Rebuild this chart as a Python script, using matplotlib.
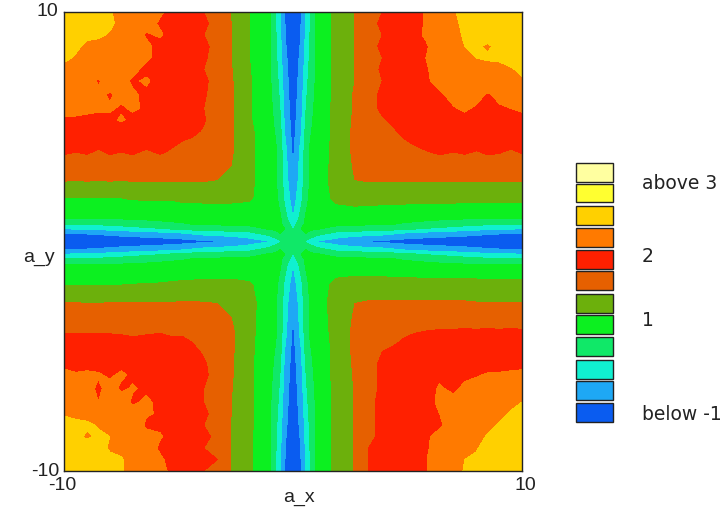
"""Contour map of a_x / a_y with a block legend."""
import matplotlib
matplotlib.use('Agg')
import matplotlib.pyplot as plt
import numpy as np
from matplotlib.colors import ListedColormap
from matplotlib.patches import Rectangle

W, H = 725, 514

# distance from the axis, shared by both directions
dist = [0, .35, .55, .75, 1, 1.9, 2.7, 3.3, 3.9, 4.4, 4.8, 5.3, 5.8, 6.4, 7, 7.5, 8, 8.5, 9, 9.5, 10]

# band index, the arms along the axes
near = [
    [3.8, 3.4, 2.9, 2.5, 2.0, 1.5, 1.1, .95, .8, .7, .6, .55, .5, .45, .4, .4, .4, .35, .3, .3, .3],
    [3.4, 4.0, 4.0, 3.8, 3.4, 2.7, 2.5, 2.4, 2.3, 2.1, 1.9, 1.75, 1.6, 1.5, 1.4, 1.3, 1.2, 1.1, 1.05, 1, 1],
    [2.9, 4, 4.1, 4.1, 4.1, 3.6, 3.5, 3.45, 3.4, 3.3, 3.2, 3.05, 2.9, 2.75, 2.6, 2.45, 2.3, 2.2, 2.1, 2.05, 2],
    [2.5, 3.8, 4.1, 4.3, 4.3, 4.2, 4.1, 4.1, 4.1, 4, 3.9, 3.8, 3.7, 3.55, 3.4, 3.3, 3.2, 3.1, 3.05, 3, 3],
    [2, 3.4, 4.1, 4.3, 4.5, 4.5, 4.4, 4.4, 4.4, 4.35, 4.3, 4.25, 4.2, 4.15, 4.1, 4.05, 4.05, 4, 4, 4, 4],
]

# the four corners, rows = |a_y| from 1.9 up, columns = |a_x| from 1.9 up
top_left = [
    [5.1, 5.2, 5.2, 5.2, 5.2, 5.2, 5.1, 5.1, 5.1, 5.1, 5, 5, 5, 5, 5, 5],
    [5.2, 5.85, 6, 6.1, 6.1, 6.1, 6.1, 6.1, 6.1, 6.1, 6.05, 6.1, 6.05, 6.1, 6.05, 6.1],
    [5.2, 6, 6.3, 6.4, 6.5, 6.5, 6.5, 6.5, 6.5, 6.6, 6.5, 6.6, 6.6, 6.5, 6.6, 6.6],
    [5.2, 6.1, 6.5, 6.7, 6.8, 6.85, 6.9, 7.1, 6.9, 7.1, 7, 7.1, 6.9, 7.1, 7, 7.1],
    [5.2, 6.1, 6.6, 6.9, 6.95, 7, 7.2, 7.3, 7.3, 7.4, 7.3, 7.4, 7.3, 7.4, 7.4, 7.4],
    [5.2, 6.1, 6.7, 6.95, 7.1, 7.05, 7.3, 7.5, 7.6, 7.5, 7.5, 7.6, 7.5, 7.6, 7.6, 7.6],
    [5.1, 6.1, 6.7, 7.05, 7.3, 7.4, 7.5, 7.7, 7.7, 7.8, 8.1, 7.8, 7.8, 7.9, 7.9, 7.9],
    [5.1, 6.1, 6.8, 7, 7.4, 7.5, 7.5, 7.6, 7.9, 8.1, 7.9, 8.1, 8.1, 8.1, 8.2, 8.2],
    [5.1, 6.1, 6.8, 7.05, 7.4, 7.5, 7.6, 7.8, 7.85, 8.1, 8.2, 7.9, 8.2, 8.3, 8.3, 8.4],
    [5.1, 6.1, 6.8, 7.1, 7.4, 7.5, 7.6, 7.7, 8.1, 7.9, 8.2, 8.4, 7.9, 8.4, 8.5, 8.6],
    [5.05, 6.05, 6.8, 7, 7.4, 7.5, 7.7, 7.9, 7.8, 8.2, 8.1, 8.4, 8.5, 8.6, 8.7, 8.85],
    [5, 6, 6.85, 7.05, 7.4, 7.5, 7.7, 7.8, 8.1, 8.2, 8.3, 8.6, 8.6, 8.8, 8.95, 9.1],
    [5, 6, 6.85, 7.1, 7.4, 7.5, 7.8, 7.7, 8.2, 8.4, 8.5, 8.7, 8.8, 8.9, 9.1, 9.2],
    [5, 6, 6.9, 7, 7.4, 7.5, 7.7, 8.1, 7.9, 8.5, 8.7, 8.95, 9.1, 9.1, 9.3, 9.4],
    [5, 6, 6.9, 7.05, 7.4, 7.5, 7.7, 7.9, 8.3, 8.55, 8.85, 9.1, 9.2, 9.3, 9.4, 9.6],
    [5, 5.95, 6.9, 7, 7.4, 7.5, 7.8, 8.1, 8.4, 8.6, 8.8, 9.05, 9.1, 9.3, 9.5, 9.7],
]
top_right = [
    [5.2, 5.4, 5.35, 5.3, 5.3, 5.3, 5.3, 5.3, 5.3, 5.3, 5.3, 5.3, 5.3, 5.3, 5.3, 5.3],
    [5.4, 6, 6.1, 6.1, 6.1, 6.1, 6.1, 6.1, 6.1, 6.1, 6.1, 6.1, 6.1, 6.1, 6.1, 6.1],
    [5.35, 6.1, 6.3, 6.4, 6.45, 6.5, 6.5, 6.6, 6.6, 6.6, 6.5, 6.6, 6.6, 6.6, 6.6, 6.7],
    [5.3, 6.2, 6.4, 6.5, 6.6, 6.7, 6.85, 6.95, 7.1, 7, 7.1, 6.95, 7.1, 7.05, 6.9, 7.05],
    [5.3, 6.2, 6.6, 6.7, 6.85, 6.95, 7.1, 7.3, 7.3, 7.4, 7.4, 7.4, 7.3, 7.4, 7.3, 7.3],
    [5.3, 6.2, 6.7, 6.9, 6.95, 7.1, 7.3, 7.4, 7.5, 7.5, 7.5, 7.6, 7.5, 7.6, 7.5, 7.6],
    [5.3, 6.15, 6.75, 6.95, 7.1, 7.3, 7.4, 7.6, 7.7, 7.7, 7.8, 7.7, 7.75, 7.7, 7.8, 7.8],
    [5.3, 6.1, 6.8, 7.1, 7.3, 7.4, 7.5, 7.7, 7.8, 7.95, 8.1, 7.9, 8, 7.9, 8, 8.1],
    [5.3, 6.1, 6.8, 7.1, 7.3, 7.5, 7.6, 7.7, 7.9, 8.2, 8.1, 8.3, 7.9, 8.2, 8.3, 8.4],
    [5.3, 6, 6.85, 7, 7.3, 7.5, 7.6, 7.9, 8.2, 8.1, 8.4, 8.5, 8.6, 8.7, 8.8, 8.95],
    [5.3, 6, 6.85, 7.05, 7.4, 7.5, 7.7, 7.95, 8.2, 8.3, 8.45, 8.6, 8.7, 8.9, 8.95, 9.1],
    [5.3, 6, 6.9, 7, 7.4, 7.6, 7.7, 8, 8.3, 8.6, 8.7, 9, 9.1, 9.05, 9.2, 9.3],
    [5.3, 6, 6.9, 7.05, 7.4, 7.6, 7.8, 7.9, 8.4, 8.7, 9, 9.1, 8.9, 9.2, 9.3, 9.4],
    [5.3, 6, 6.9, 7, 7.4, 7.6, 7.8, 8.1, 8.5, 8.75, 9.1, 9.2, 9.3, 9.1, 9.4, 9.6],
    [5.3, 6, 6.9, 7.05, 7.4, 7.6, 7.8, 8.05, 8.6, 8.85, 9.15, 9.3, 9.4, 9.5, 9.4, 9.65],
    [5.3, 6, 6.9, 7, 7.4, 7.6, 7.8, 8.05, 8.6, 8.95, 9.15, 9.3, 9.4, 9.5, 9.6, 9.7],
]
bottom_left = [
    [5.1, 5.25, 5.25, 5.25, 5.2, 5.2, 5.15, 5.1, 5.05, 5.05, 5, 5, 5, 4.95, 4.95, 4.95],
    [5.3, 5.9, 6, 6.05, 6.1, 6.1, 6.05, 6.05, 6.05, 6.05, 6.05, 6.05, 6, 6, 6.05, 6.05],
    [5.25, 6, 6.3, 6.4, 6.5, 6.5, 6.5, 6.5, 6.5, 6.5, 6.5, 6.5, 6.5, 6.5, 6.5, 6.5],
    [5.25, 6.15, 6.4, 6.6, 6.8, 6.9, 6.95, 6.95, 6.9, 6.95, 6.9, 6.9, 6.95, 6.95, 6.95, 6.95],
    [5.2, 6.15, 6.6, 6.85, 7, 7.1, 7.05, 7.2, 7.2, 7.05, 7.2, 7.3, 7.2, 7.2, 7.2, 7.2],
    [5.2, 6.15, 6.7, 6.95, 7.1, 7.2, 7.3, 7.4, 7.4, 7.5, 7.5, 7.5, 7.4, 7.55, 7.5, 7.5],
    [5.2, 6.1, 6.8, 7.05, 7.3, 7.4, 7.5, 7.5, 7.6, 7.7, 7.8, 7.75, 7.8, 7.8, 7.8, 7.85],
    [5.2, 6.1, 6.9, 7.05, 7.3, 7.4, 7.5, 7.6, 7.7, 7.9, 8.1, 7.9, 8.05, 8.1, 8.05, 8.15],
    [5.2, 6.05, 6.9, 7, 7.3, 7.4, 7.5, 7.8, 7.9, 8.05, 7.9, 8.2, 7.9, 8.2, 8.3, 8.3],
    [5.2, 6, 6.9, 7, 7.3, 7.4, 7.6, 7.85, 8.1, 7.9, 8.3, 8.4, 8, 8.6, 8.6, 8.7],
    [5.2, 6, 6.9, 7.05, 7.3, 7.5, 7.6, 7.95, 8.05, 8.3, 8.3, 8.6, 8.6, 8.8, 8.9, 8.95],
    [5.2, 5.95, 6.95, 7, 7.3, 7.5, 7.6, 7.9, 7.9, 8.4, 8.5, 8.7, 8.95, 9.1, 9.1, 9.2],
    [5.2, 5.95, 6.95, 7.05, 7.4, 7.5, 7.8, 8.05, 8.2, 8.5, 8.7, 9, 9.1, 8.9, 9.2, 9.3],
    [5.2, 5.95, 6.95, 7, 7.4, 7.5, 7.7, 7.9, 8.3, 8.6, 8.85, 8.95, 9.15, 9.3, 9.3, 9.5],
    [5.2, 5.95, 7, 7.05, 7.4, 7.5, 7.8, 8.1, 8.4, 8.75, 9.05, 9.1, 9.3, 9.4, 9.5, 9.6],
    [5.2, 5.95, 7, 7, 7.4, 7.6, 7.9, 8.15, 8.5, 8.8, 9.05, 9.25, 9.4, 9.5, 9.6, 9.7],
]
bottom_right = [
    [5.25, 5.45, 5.4, 5.4, 5.4, 5.4, 5.4, 5.4, 5.4, 5.4, 5.4, 5.4, 5.4, 5.4, 5.35, 5.35],
    [5.5, 6, 6.1, 6.1, 6.1, 6.1, 6.1, 6.1, 6.1, 6.1, 6.1, 6.05, 6.05, 6.05, 6.05, 6.05],
    [5.4, 6.1, 6.35, 6.5, 6.5, 6.6, 6.6, 6.6, 6.6, 6.6, 6.6, 6.6, 6.6, 6.6, 6.6, 6.6],
    [5.35, 6.2, 6.5, 6.7, 6.8, 6.9, 6.95, 7, 7.05, 7.05, 7.1, 7.05, 7.1, 7.05, 7.1, 7.05],
    [5.3, 6.2, 6.7, 6.9, 6.95, 7.05, 7.2, 7.3, 7.3, 7.3, 7.3, 7.3, 7.3, 7.3, 7.3, 7.3],
    [5.3, 6.2, 6.8, 7, 7.1, 7.2, 7.4, 7.4, 7.5, 7.5, 7.5, 7.5, 7.5, 7.5, 7.5, 7.5],
    [5.3, 6.15, 6.9, 7.05, 7.3, 7.4, 7.5, 7.5, 7.7, 7.7, 7.7, 7.8, 7.7, 7.8, 7.8, 7.8],
    [5.3, 6.1, 6.9, 7.05, 7.3, 7.4, 7.5, 7.6, 7.9, 7.95, 7.9, 7.95, 8.05, 8.05, 8.1, 8.15],
    [5.3, 6.05, 6.9, 7.05, 7.4, 7.5, 7.5, 7.8, 8.05, 7.9, 8.1, 8.2, 8.2, 8.2, 8.3, 8.4],
    [5.3, 6.05, 6.95, 7.05, 7.4, 7.5, 7.6, 7.8, 8.1, 8.15, 8.3, 8.4, 8.5, 8.7, 8.85, 9],
    [5.3, 6.05, 6.95, 7.05, 7.4, 7.5, 7.7, 7.85, 8, 8.3, 8.4, 8.55, 8.7, 8.85, 9.05, 9.2],
    [5.3, 6.05, 6.95, 7.05, 7.4, 7.5, 7.7, 7.85, 7.9, 8.3, 8.5, 8.7, 8.85, 9.05, 9.2, 9.35],
    [5.3, 6.05, 6.95, 7.05, 7.4, 7.5, 7.75, 7.9, 8.2, 8.4, 8.6, 8.8, 9.05, 9.2, 9.3, 9.4],
    [5.3, 6.05, 7, 7.05, 7.4, 7.5, 7.8, 7.9, 8.3, 8.5, 8.8, 8.95, 9.2, 9.3, 9.4, 9.5],
    [5.3, 6.05, 7, 7.05, 7.4, 7.5, 7.8, 7.95, 8.5, 8.65, 9, 9.1, 9.3, 9.4, 9.5, 9.6],
    [5.3, 6.05, 7, 7.05, 7.4, 7.5, 7.8, 7.95, 8.5, 8.75, 9.05, 9.15, 9.35, 9.5, 9.6, 9.75],
]

band_colors = ['#0a5cf0', '#1ea8f5', '#10f0d0', '#10e868', '#0cf020', '#6cb00c',
               '#e66000', '#ff2000', '#ff7a00', '#ffd000', '#ffff30', '#ffffa0']
legend_texts = ['above 3', '2', '1', 'below -1']

d = np.array(dist)
n = len(d) - 1
nn = len(near)
coords = np.concatenate([-d[::-1], d[1:]])
Z = np.zeros((2*n + 1, 2*n + 1))
for quad, sy, sx in [(top_left, 1, -1), (top_right, 1, 1),
                     (bottom_left, -1, -1), (bottom_right, -1, 1)]:
    for i in range(n + 1):
        for j in range(n + 1):
            if i < nn:
                val = near[i][j]
            elif j < nn:
                val = near[j][i]
            else:
                val = quad[i - nn][j - nn]
            Z[n + sy*i, n + sx*j] = val

fig = plt.figure(figsize=(W/100, H/100), dpi=100)
ax = fig.add_axes([64/W, 1 - 471/H, 458/W, 459/H])
ax.contourf(coords, coords, Z, levels=np.arange(13),
            cmap=ListedColormap(band_colors), antialiased=False)
ax.set_xlim(-10, 10)
ax.set_ylim(-10, 10)
ax.set_xticks([])
ax.set_yticks([])
for s in ax.spines.values():
    s.set_linewidth(1.0)
    s.set_color('#222222')


def label(px, py, text, ha='center', size=14, family='Liberation Sans'):
    fig.text(px/W, 1 - py/H, text, ha=ha, va='center', fontsize=size,
             family=family, color='#222222')


label(47.5, 12, '10')
label(45, 471, '-10')
label(62, 485, '-10')
label(525, 486, '10')
label(299, 498, 'a_x')
label(38.5, 257, 'a_y')

# legend blocks, top to bottom
box_tops = [163, 184, 206, 228, 250, 271, 294, 315, 337, 360, 381, 403]
for k, top in enumerate(box_tops):
    fig.add_artist(Rectangle((576/W, 1 - (top + 18.5)/H), 37/W, 18.5/H,
                             transform=fig.transFigure,
                             facecolor=band_colors[11 - k],
                             edgecolor='#222222', linewidth=1.0))
for y, text in zip([183, 256, 321, 415], legend_texts):
    label(642, y, text, ha='left', size=13.5, family='DejaVu Sans')

fig.savefig('out.png', dpi=100)
